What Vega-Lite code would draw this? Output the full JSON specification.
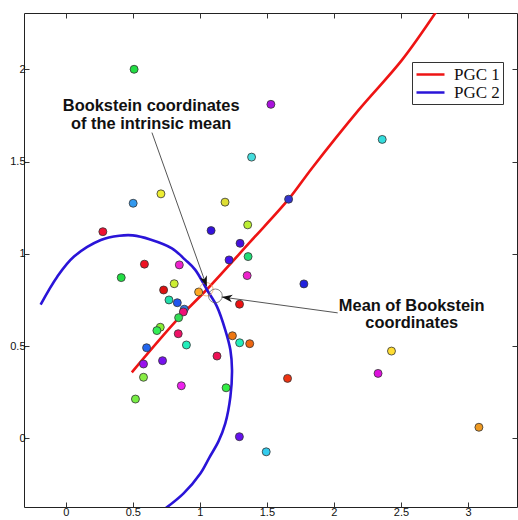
{
  "$schema": "https://vega.github.io/schema/vega-lite/v6.json",
  "width": 493,
  "height": 494,
  "autosize": {"type": "none"},
  "padding": {"left": 24, "top": 13, "right": 1, "bottom": 13},
  "background": "white",
  "config": {
    "view": {"stroke": "#222", "strokeWidth": 1},
    "axis": {
      "domain": false,
      "grid": false,
      "tickSize": -5,
      "tickColor": "#333",
      "tickWidth": 1,
      "labelFont": "Liberation Sans",
      "labelFontSize": 11,
      "labelColor": "#111",
      "labelPadding": 4,
      "title": null,
      "format": "~g"
    }
  },
  "datasets": {
    "specimens": [
      {"id": 1, "x": 0.51, "y": 2.0},
      {"id": 2, "x": 1.53, "y": 1.81},
      {"id": 3, "x": 2.36, "y": 1.62},
      {"id": 4, "x": 1.386, "y": 1.524},
      {"id": 5, "x": 0.71, "y": 1.325},
      {"id": 6, "x": 0.503, "y": 1.274},
      {"id": 7, "x": 1.188, "y": 1.28},
      {"id": 8, "x": 0.277, "y": 1.12},
      {"id": 9, "x": 1.084, "y": 1.126},
      {"id": 10, "x": 1.357, "y": 1.157},
      {"id": 11, "x": 1.662, "y": 1.296},
      {"id": 12, "x": 1.3, "y": 1.057},
      {"id": 13, "x": 1.36, "y": 0.985},
      {"id": 14, "x": 1.218, "y": 0.967},
      {"id": 15, "x": 1.353, "y": 0.882},
      {"id": 16, "x": 1.776, "y": 0.837},
      {"id": 17, "x": 1.296, "y": 0.727},
      {"id": 18, "x": 0.991, "y": 0.793},
      {"id": 19, "x": 0.414, "y": 0.871},
      {"id": 20, "x": 0.587, "y": 0.944},
      {"id": 21, "x": 0.847, "y": 0.94},
      {"id": 22, "x": 0.809, "y": 0.838},
      {"id": 23, "x": 0.73, "y": 0.804},
      {"id": 24, "x": 0.77, "y": 0.75},
      {"id": 25, "x": 0.832, "y": 0.735},
      {"id": 26, "x": 0.884, "y": 0.7},
      {"id": 27, "x": 0.877, "y": 0.685},
      {"id": 28, "x": 0.842, "y": 0.654},
      {"id": 29, "x": 0.705, "y": 0.602},
      {"id": 30, "x": 0.68, "y": 0.584},
      {"id": 31, "x": 0.839, "y": 0.567},
      {"id": 32, "x": 0.9, "y": 0.506},
      {"id": 33, "x": 0.603, "y": 0.491},
      {"id": 34, "x": 0.58, "y": 0.403},
      {"id": 35, "x": 0.722, "y": 0.421},
      {"id": 36, "x": 1.128, "y": 0.446},
      {"id": 37, "x": 1.243, "y": 0.556},
      {"id": 38, "x": 1.297, "y": 0.518},
      {"id": 39, "x": 1.372, "y": 0.513},
      {"id": 40, "x": 0.58, "y": 0.331},
      {"id": 41, "x": 0.52, "y": 0.213},
      {"id": 42, "x": 0.862, "y": 0.285},
      {"id": 43, "x": 1.196, "y": 0.274},
      {"id": 44, "x": 1.295, "y": 0.009},
      {"id": 45, "x": 1.495, "y": -0.073},
      {"id": 46, "x": 2.429, "y": 0.473},
      {"id": 47, "x": 2.329, "y": 0.352},
      {"id": 48, "x": 1.654, "y": 0.325},
      {"id": 49, "x": 3.081, "y": 0.06}
    ],
    "curves": [
      {"curve": "PGC 1", "t": 1, "x": 0.493, "y": 0.358},
      {"curve": "PGC 1", "t": 2, "x": 0.83, "y": 0.642},
      {"curve": "PGC 1", "t": 3, "x": 1.054, "y": 0.808},
      {"curve": "PGC 1", "t": 4, "x": 1.377, "y": 1.066},
      {"curve": "PGC 1", "t": 5, "x": 1.662, "y": 1.296},
      {"curve": "PGC 1", "t": 6, "x": 1.836, "y": 1.464},
      {"curve": "PGC 1", "t": 7, "x": 2.185, "y": 1.78},
      {"curve": "PGC 1", "t": 8, "x": 2.508, "y": 2.051},
      {"curve": "PGC 1", "t": 9, "x": 2.77, "y": 2.32},
      {"curve": "PGC 2", "t": 1, "x": -0.187, "y": 0.725},
      {"curve": "PGC 2", "t": 2, "x": -0.063, "y": 0.876},
      {"curve": "PGC 2", "t": 3, "x": 0.062, "y": 0.985},
      {"curve": "PGC 2", "t": 4, "x": 0.262, "y": 1.075},
      {"curve": "PGC 2", "t": 5, "x": 0.4, "y": 1.098},
      {"curve": "PGC 2", "t": 6, "x": 0.5, "y": 1.1},
      {"curve": "PGC 2", "t": 7, "x": 0.63, "y": 1.078},
      {"curve": "PGC 2", "t": 8, "x": 0.792, "y": 1.03},
      {"curve": "PGC 2", "t": 9, "x": 0.892, "y": 0.967},
      {"curve": "PGC 2", "t": 10, "x": 0.966, "y": 0.913},
      {"curve": "PGC 2", "t": 11, "x": 1.054, "y": 0.804},
      {"curve": "PGC 2", "t": 12, "x": 1.128, "y": 0.714},
      {"curve": "PGC 2", "t": 13, "x": 1.19, "y": 0.587},
      {"curve": "PGC 2", "t": 14, "x": 1.228, "y": 0.479},
      {"curve": "PGC 2", "t": 15, "x": 1.24, "y": 0.37},
      {"curve": "PGC 2", "t": 16, "x": 1.228, "y": 0.226},
      {"curve": "PGC 2", "t": 17, "x": 1.19, "y": 0.081},
      {"curve": "PGC 2", "t": 18, "x": 1.14, "y": -0.015},
      {"curve": "PGC 2", "t": 19, "x": 1.071, "y": -0.104},
      {"curve": "PGC 2", "t": 20, "x": 1.004, "y": -0.19},
      {"curve": "PGC 2", "t": 21, "x": 0.879, "y": -0.298},
      {"curve": "PGC 2", "t": 22, "x": 0.742, "y": -0.38}
    ],
    "arrows": [
      {"arrow": "intrinsic", "x": 0.643, "y": 1.657, "x2": 1.052, "y2": 0.823},
      {"arrow": "mean", "x": 2.028, "y": 0.68, "x2": 1.164, "y2": 0.766}
    ],
    "notes": [
      {"text": "Bookstein coordinates", "x": 0.6375, "y": 1.802},
      {"text": "of the intrinsic mean", "x": 0.6375, "y": 1.704},
      {"text": "Mean of Bookstein", "x": 2.58, "y": 0.719},
      {"text": "coordinates", "x": 2.58, "y": 0.625}
    ]
  },
  "layer": [
    {
      "data": {"name": "curves"},
      "mark": {"type": "line", "strokeWidth": 2.6, "clip": true, "interpolate": "catmull-rom"},
      "encoding": {
        "x": {"field": "x", "type": "quantitative", "scale": {"domain": [-0.311, 3.365], "nice": false, "zero": false}, "axis": null},
        "y": {"field": "y", "type": "quantitative", "scale": {"domain": [-0.372, 2.305], "nice": false, "zero": false}, "axis": null},
        "order": {"field": "t", "type": "quantitative"},
        "stroke": {
          "field": "curve",
          "type": "nominal",
          "scale": {"domain": ["PGC 1", "PGC 2"], "range": ["#ee1414", "#2a14d8"]},
          "legend": {
            "orient": "none",
            "legendX": 388,
            "legendY": 49,
            "title": null,
            "strokeColor": "#333",
            "fillColor": "white",
            "padding": 3,
            "symbolType": "M-1.75,0L1.75,0",
            "symbolStrokeWidth": 2.5,
            "symbolSize": 256,
            "symbolOffset": 6,
            "labelFont": "Liberation Serif",
            "labelFontSize": 17,
            "labelColor": "#111",
            "rowPadding": 0,
            "labelOffset": 14
          }
        }
      }
    },
    {
      "data": {"name": "specimens"},
      "mark": {"type": "point", "shape": "circle", "filled": true, "size": 64, "stroke": "#333", "strokeWidth": 0.8, "opacity": 1},
      "encoding": {
        "x": {"field": "x", "type": "quantitative", "axis": {"orient": "bottom", "values": [0, 0.5, 1, 1.5, 2, 2.5, 3]}},
        "y": {"field": "y", "type": "quantitative", "axis": {"orient": "left", "values": [0, 0.5, 1, 1.5, 2]}},
        "fill": {
          "field": "id",
          "type": "ordinal",
          "legend": null,
          "scale": {
            "domain": [1,2,3,4,5,6,7,8,9,10,11,12,13,14,15,16,17,18,19,20,21,22,23,24,25,26,27,28,29,30,31,32,33,34,35,36,37,38,39,40,41,42,43,44,45,46,47,48,49],
            "range": ["#22dd44","#aa11dd","#33dddd","#44dddd","#eeee33","#3399ee","#dddd33","#ee1133","#3311dd","#bbee33","#3333cc","#4411dd","#22dd77","#4411ee","#ee22cc","#2222dd","#ee1111","#ffaa22","#22dd44","#ee1122","#ee22cc","#ccee33","#dd1111","#22ddaa","#2255ee","#3377dd","#ee1177","#33dd55","#88ee33","#33ee55","#ee1166","#22eebb","#2266ee","#9911ee","#7711ee","#ee1155","#ee7711","#22eebb","#ee6611","#88ee44","#77ee44","#ee22ee","#33ee44","#6611ee","#33ccee","#ffdd33","#dd11dd","#ee3311","#ee9922"]
          }
        }
      }
    },
    {
      "data": {"values": [{"x": 1.049, "y": 0.808}]},
      "mark": {"type": "point", "shape": "circle", "filled": false, "size": 180, "stroke": "#f0a050", "strokeWidth": 1},
      "encoding": {
        "x": {"field": "x", "type": "quantitative", "axis": null},
        "y": {"field": "y", "type": "quantitative", "axis": null}
      }
    },
    {
      "data": {"values": [{"x": 1.116, "y": 0.772}]},
      "mark": {"type": "point", "shape": "circle", "filled": false, "size": 190, "stroke": "#555", "strokeWidth": 1},
      "encoding": {
        "x": {"field": "x", "type": "quantitative", "axis": null},
        "y": {"field": "y", "type": "quantitative", "axis": null}
      }
    },
    {
      "data": {"name": "arrows"},
      "mark": {"type": "rule", "stroke": "#555", "strokeWidth": 1},
      "encoding": {
        "x": {"field": "x", "type": "quantitative", "axis": {"orient": "top", "values": [0, 0.5, 1, 1.5, 2, 2.5, 3], "labels": false}},
        "y": {"field": "y", "type": "quantitative", "axis": {"orient": "right", "values": [0, 0.5, 1, 1.5, 2], "labels": false}},
        "x2": {"field": "x2"},
        "y2": {"field": "y2"}
      }
    },
    {
      "data": {"name": "arrows"},
      "transform": [{"filter": "datum.arrow === 'intrinsic'"}],
      "mark": {"type": "point", "shape": "M0,0L0.36,1L0,0.72L-0.36,1Z", "filled": true, "fill": "#111", "strokeWidth": 0, "size": 450, "angle": 160.4, "opacity": 1},
      "encoding": {
        "x": {"field": "x2", "type": "quantitative", "axis": null},
        "y": {"field": "y2", "type": "quantitative", "axis": null}
      }
    },
    {
      "data": {"name": "arrows"},
      "transform": [{"filter": "datum.arrow === 'mean'"}],
      "mark": {"type": "point", "shape": "M0,0L0.36,1L0,0.72L-0.36,1Z", "filled": true, "fill": "#111", "strokeWidth": 0, "size": 450, "angle": 277.9, "opacity": 1},
      "encoding": {
        "x": {"field": "x2", "type": "quantitative", "axis": null},
        "y": {"field": "y2", "type": "quantitative", "axis": null}
      }
    },
    {
      "data": {"name": "notes"},
      "mark": {"type": "text", "font": "Liberation Sans", "fontWeight": "bold", "fontSize": 16.4, "align": "center", "baseline": "middle", "color": "#111"},
      "encoding": {
        "x": {"field": "x", "type": "quantitative", "axis": null},
        "y": {"field": "y", "type": "quantitative", "axis": null},
        "text": {"field": "text"}
      }
    }
  ],
  "resolve": {"axis": {"x": "independent", "y": "independent"}}
}
